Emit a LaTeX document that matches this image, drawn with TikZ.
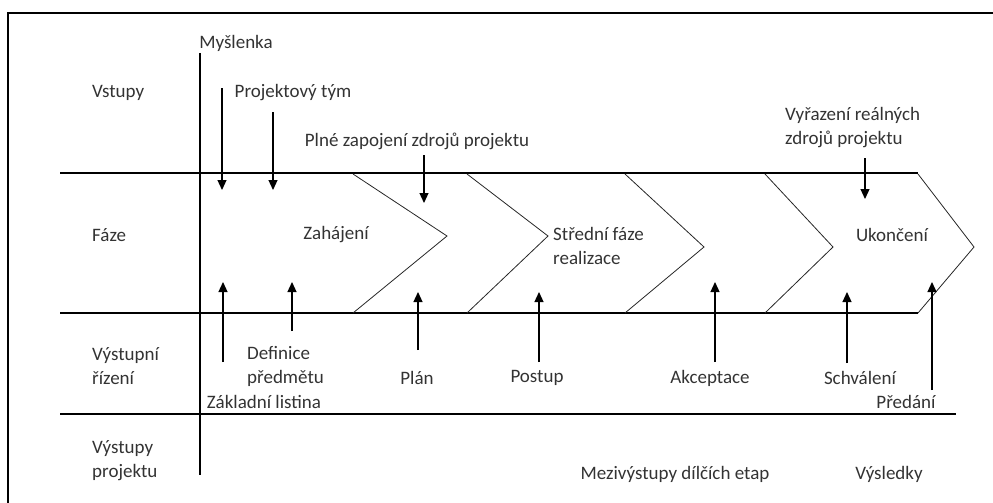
\documentclass[tikz,border=0pt]{standalone}
\usepackage{fontspec}
\setmainfont{Carlito}
\usetikzlibrary{arrows.meta}
\begin{document}
\begin{tikzpicture}[x=1pt,y=-1pt,
  lbl/.style={inner sep=0pt,font=\fontsize{19pt}{24pt}\selectfont,text=black!80},
  lbll/.style={lbl,align=left,anchor=west},
  thick line/.style={line width=2.2pt},
  chev/.style={line width=0.8pt,black!85},
  arr/.style={line width=1.2pt,-{Triangle[width=9pt,length=10pt]}}]
\useasboundingbox (0,0) rectangle (993,503);
\begin{scope}
\clip (0,0) rectangle (993,503);
\draw[line width=2pt] (8,520) -- (8,13) -- (1010,13);
\end{scope}
% main lines
\coordinate (vt) at (200,53); \coordinate (vb) at (200,475);
\draw[line width=2.6pt] (vt) -- (vb);
\coordinate (h1a) at (60,173); \coordinate (h1b) at (918,173);
\coordinate (h2a) at (60,313); \coordinate (h2b) at (918,313);
\coordinate (h3a) at (60,414); \coordinate (h3b) at (956,414);
\draw[thick line] (h1a) -- (h1b);
\draw[thick line] (h2a) -- (h2b);
\draw[thick line] (h3a) -- (h3b);
% chevrons
\draw[chev] (353,174) -- (447,236) -- (353,313);
\draw[chev] (467,174) -- (548,236) -- (467,313);
\draw[chev] (625,174) -- (704,247) -- (625,313);
\draw[chev] (765,174) -- (833,247) -- (765,313);
\draw[chev] (918,174) -- (974,247) -- (918,313);
% labels
\node[lbl] (mys) at (236,43) {Myšlenka};
\node[lbll] (vst) at (92,93) {Vstupy};
\node[lbl] (ptym) at (293,93) {Projektový tým};
\node[lbl] (plne) at (417,141) {Plné zapojení zdrojů projektu};
\node[lbll] (vyr) at (785,128) {Vyřazení reálných\\zdrojů projektu};
\node[lbll] (faze) at (92,235) {Fáze};
\node[lbl] (zah) at (336,235) {Zahájení};
\node[lbll] (stred) at (553,246) {Střední fáze\\realizace};
\node[lbl] (ukon) at (892,235) {Ukončení};
\node[lbll] (vri) at (92,366) {Výstupní\\řízení};
\node[lbll] (def) at (247,366) {Definice\\předmětu};
\node[lbl] (zakl) at (264,402) {Základní listina};
\node[lbl] (plan) at (417,378) {Plán};
\node[lbl] (post) at (537,378) {Postup};
\node[lbl] (akc) at (710,378) {Akceptace};
\node[lbl] (schv) at (860,378) {Schválení};
\node[lbl] (pred) at (906,402) {Předání};
\node[lbll] (vpr) at (92,461) {Výstupy\\projektu};
\node[lbl] (mezi) at (675,474) {Mezivýstupy dílčích etap};
\node[lbl] (vysl) at (889,474) {Výsledky};
% arrows down
\coordinate (d1s) at (222,88);  \coordinate (d1e) at (222,190);
\coordinate (d2s) at (273,112); \coordinate (d2e) at (273,190);
\coordinate (d3s) at (424,155); \coordinate (d3e) at (424,203);
\coordinate (d4s) at (865,158); \coordinate (d4e) at (865,199);
\draw[arr] (d1s) -- (d1e);
\draw[arr] (d2s) -- (d2e);
\draw[arr] (d3s) -- (d3e);
\draw[arr] (d4s) -- (d4e);
% arrows up
\coordinate (u1s) at (223,362); \coordinate (u1e) at (223,282);
\coordinate (u2s) at (292,331); \coordinate (u2e) at (292,282);
\coordinate (u3s) at (418,350); \coordinate (u3e) at (418,292);
\coordinate (u4s) at (539,362); \coordinate (u4e) at (539,292);
\coordinate (u5s) at (715,362); \coordinate (u5e) at (715,282);
\coordinate (u6s) at (847,363); \coordinate (u6e) at (847,292);
\coordinate (u7s) at (932,390); \coordinate (u7e) at (932,282);
\draw[arr] (u1s) -- (u1e);
\draw[arr] (u2s) -- (u2e);
\draw[arr] (u3s) -- (u3e);
\draw[arr] (u4s) -- (u4e);
\draw[arr] (u5s) -- (u5e);
\draw[arr] (u6s) -- (u6e);
\draw[arr] (u7s) -- (u7e);
\end{tikzpicture}
\end{document}
